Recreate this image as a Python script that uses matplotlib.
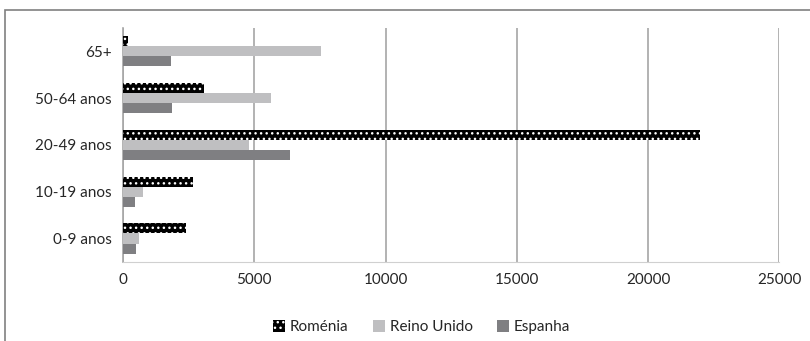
import numpy as np
import matplotlib.pyplot as plt
from matplotlib.patches import Rectangle

# Dados
categorias = ["0-9 anos", "10-19 anos", "20-49 anos", "50-64 anos", "65+"]
romenia = [2400, 2680, 21980, 3090, 180]
reino_unido = [620, 740, 4800, 5620, 7530]
espanha = [500, 460, 6370, 1880, 1830]
series = ["Roménia", "Reino Unido", "Espanha"]

plt.rcParams["font.family"] = ["Lato", "DejaVu Sans"]
plt.rcParams["hatch.linewidth"] = 1.0

fig = plt.figure(figsize=(8.1, 3.41), dpi=100)
ax = fig.add_axes([0.152, 0.232, 0.810, 0.686])

y = np.arange(len(categorias))
h = 0.215

ax.barh(y + h, romenia, height=h, color="black", edgecolor="white",
        linewidth=0, hatch="...", label=series[0], zorder=3)
ax.barh(y, reino_unido, height=h, color="#bfbfc1", linewidth=0,
        label=series[1], zorder=3)
ax.barh(y - h, espanha, height=h, color="#7f7f82", linewidth=0,
        label=series[2], zorder=3)

ax.set_xlim(0, 25000)
ax.set_ylim(-0.5, len(categorias) - 0.5)
ax.set_xticks(range(0, 25001, 5000))
ax.set_yticks(y)
ax.set_yticklabels(categorias)
ax.tick_params(length=0, labelsize=11, colors="#262626", pad=8)
ax.xaxis.grid(True, color="#a6a6a6", linewidth=1.2, zorder=0)

for s in ["top", "right"]:
    ax.spines[s].set_visible(False)
ax.spines["left"].set_color("#a6a6a6")
ax.spines["left"].set_linewidth(1.2)
ax.spines["bottom"].set_color("#d0d0d0")

leg = ax.legend(loc="upper center", bbox_to_anchor=(0.455, -0.19), ncol=3,
                frameon=False, fontsize=11, handlelength=0.8,
                handleheight=0.8, columnspacing=1.6, handletextpad=0.3)
for t in leg.get_texts():
    t.set_color("#262626")

# moldura do gráfico
fig.patches.append(Rectangle((5 / 810, -0.1), 1.1, 1 - 10 / 341 + 0.1,
                             transform=fig.transFigure, fill=False,
                             edgecolor="#808080", linewidth=1.2))

plt.savefig("out.png")
